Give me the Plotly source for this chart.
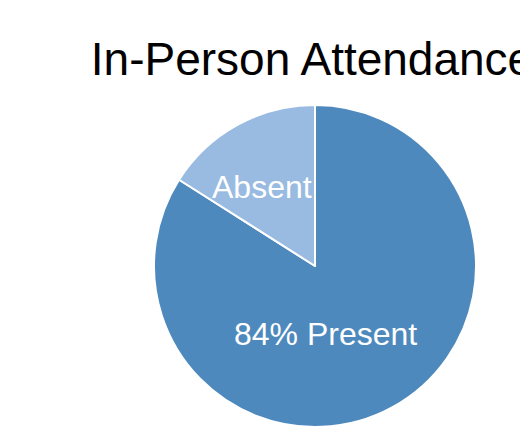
import plotly.graph_objects as go

# Attendance split
labels = ["Present", "Absent"]
values = [84, 16]
colors = ["#4e89bd", "#99bbe1"]
show_percent = [True, False]

# Label anchor points inside each slice (paper fraction of the pie domain)
label_pos = [(0.533, 0.290), (0.334, 0.745)]

FONT = "Liberation Sans, Arial, Helvetica, sans-serif"

fig = go.Figure(
    go.Pie(
        labels=labels,
        values=values,
        sort=False,
        direction="clockwise",
        rotation=0,
        marker=dict(colors=colors, line=dict(color="white", width=2)),
        textinfo="none",
        hoverinfo="label+percent",
        showlegend=False,
    )
)

total = sum(values)
for lab, val, pct, (px, py) in zip(labels, values, show_percent, label_pos):
    txt = f"{round(100 * val / total)}% {lab}" if pct else lab
    fig.add_annotation(
        text=txt,
        x=px,
        y=py,
        xref="paper",
        yref="paper",
        xanchor="center",
        yanchor="middle",
        showarrow=False,
        font=dict(family=FONT, size=32, color="white"),
    )

fig.update_layout(
    width=520,
    height=429,
    margin=dict(l=154, r=44, t=105, b=2),
    paper_bgcolor="white",
    plot_bgcolor="white",
    title=dict(
        text="In-Person Attendance",
        x=312 / 520,
        xanchor="center",
        xref="container",
        y=1 - 59 / 429,
        yanchor="middle",
        yref="container",
        font=dict(family=FONT, size=46, color="black"),
    ),
)

fig.write_html("out.html")
